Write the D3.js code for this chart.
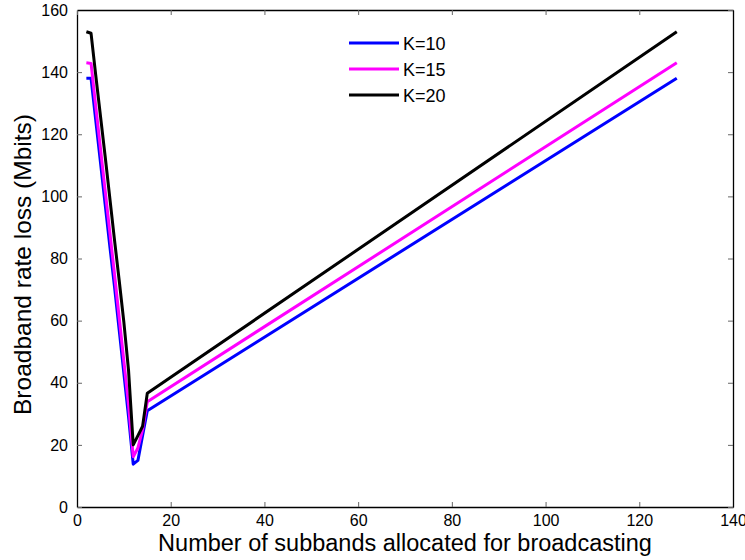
<!DOCTYPE html>
<html>
<head>
<meta charset="utf-8">
<script src="https://cdn.jsdelivr.net/npm/d3@7"></script>
<style>
body { margin: 0; background: #fff; }
svg text { font-family: "Liberation Sans", Arial, sans-serif; }
</style>
</head>
<body>
<div id="chart"></div>
<script>
// subbands allocated (x) and broadband rate loss per K
var subbands = [2, 3, 4, 5, 6, 7, 8, 9, 10, 11, 12, 13, 14, 15, 128];
var lossK10 = [138, 138, 124.5, 111, 97.5, 84, 71, 57, 43, 29, 13.8, 15, 23, 31, 138];
var lossK15 = [143, 142.8, 129, 115.5, 102, 88.5, 75, 61, 47, 33, 16.2, 19, 25, 33.9, 143];
var lossK20 = [153, 152.5, 139, 126, 113, 99.5, 86, 73, 59.5, 44, 20, 23, 26, 36.6, 153];
var seriesNames = ["K=10", "K=15", "K=20"];
var seriesColors = ["#0000ff", "#ff00ff", "#000000"];
var xTicks = [0, 20, 40, 60, 80, 100, 120, 140];
var yTicks = [0, 20, 40, 60, 80, 100, 120, 140, 160];

var W = 745, H = 560;
var margin = {left: 77, top: 10, right: 12, bottom: 53};
var width = W - margin.left - margin.right;
var height = H - margin.top - margin.bottom;

var svg = d3.select("#chart").append("svg")
    .attr("width", W)
    .attr("height", H)
    .append("g")
    .attr("transform", "translate(" + margin.left + "," + margin.top + ")");

var xScale = d3.scaleLinear().domain([0, 140]).range([0, width]);
var yScale = d3.scaleLinear().domain([0, 160]).range([height, 0]);

// box-style axes with inward ticks
svg.append("g")
    .attr("class", "x axis")
    .attr("transform", "translate(0," + height + ")")
    .call(d3.axisBottom(xScale).tickValues(xTicks).tickSizeInner(-5).tickSizeOuter(0).tickPadding(8));
svg.append("g")
    .attr("class", "y axis")
    .call(d3.axisLeft(yScale).tickValues(yTicks).tickSizeInner(-5).tickSizeOuter(0).tickPadding(9));
svg.append("g")
    .call(d3.axisTop(xScale).tickValues(xTicks).tickSizeInner(-5).tickSizeOuter(0).tickFormat(""));
svg.append("g")
    .attr("transform", "translate(" + width + ",0)")
    .call(d3.axisRight(yScale).tickValues(yTicks).tickSizeInner(-5).tickSizeOuter(0).tickFormat(""));

svg.selectAll(".domain").attr("stroke", "#000").attr("stroke-width", 1.3);
svg.selectAll(".tick line").attr("stroke", "#666").attr("stroke-width", 1);
svg.selectAll(".tick text").style("font-size", "16px").attr("fill", "#000");

var line = d3.line()
    .x(function(d) { return xScale(d.x); })
    .y(function(d) { return yScale(d.y); });

[lossK10, lossK15, lossK20].forEach(function(vals, i) {
    var pts = subbands.map(function(x, j) { return {x: x, y: vals[j]}; });
    svg.append("path")
        .datum(pts)
        .attr("fill", "none")
        .attr("stroke", seriesColors[i])
        .attr("stroke-width", 3)
        .attr("stroke-linejoin", "round")
        .attr("d", line);
});

// legend
var legend = svg.append("g").attr("transform", "translate(272,33)");
seriesNames.forEach(function(name, i) {
    legend.append("line")
        .attr("x1", 0).attr("x2", 50)
        .attr("y1", i * 26).attr("y2", i * 26)
        .attr("stroke", seriesColors[i]).attr("stroke-width", 3);
    legend.append("text")
        .attr("x", 54).attr("y", i * 26 + 6.5)
        .style("font-size", "18px")
        .text(name);
});

svg.append("text")
    .attr("x", width / 2).attr("y", height + 44)
    .attr("text-anchor", "middle")
    .style("font-size", "23.5px")
    .text("Number of subbands allocated for broadcasting");

svg.append("text")
    .attr("transform", "rotate(-90)")
    .attr("x", -height / 2 - 6).attr("y", -46)
    .attr("text-anchor", "middle")
    .style("font-size", "24.5px")
    .text("Broadband rate loss (Mbits)");
</script>
</body>
</html>
